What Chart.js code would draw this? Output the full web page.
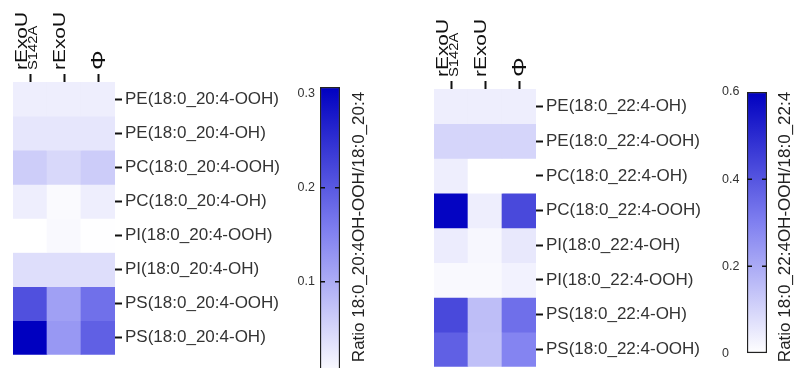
<!DOCTYPE html>
<html>
<head>
<meta charset="utf-8">
<script src="https://cdn.jsdelivr.net/npm/chart.js@4.4.1/dist/chart.umd.min.js"></script>
<style>
  body { margin: 0; width: 799px; height: 368px; overflow: hidden; background: #fff; position: relative; }
  canvas { position: absolute; top: 0; }
</style>
</head>
<body>
<canvas id="heat-204" width="300" height="368" style="left:0px"></canvas>
<canvas id="bar-204" width="100" height="390" style="left:280px"></canvas>
<canvas id="heat-224" width="330" height="380" style="left:400px"></canvas>
<canvas id="bar-224" width="99" height="368" style="left:700px"></canvas>
<script>
/* heatmaps of oxidised / non-oxidised ratios, two panels */

// columns (top labels)
const columns = ['rExoU S142A', 'rExoU', 'Φ'];
const columnMain = ['rExoU', 'rExoU', 'Φ'];
const columnSub = ['S142A', '', ''];

// left panel: 20:4
const rows204 = ['PE(18:0_20:4-OOH)', 'PE(18:0_20:4-OH)', 'PC(18:0_20:4-OOH)', 'PC(18:0_20:4-OH)',
                 'PI(18:0_20:4-OOH)', 'PI(18:0_20:4-OH)', 'PS(18:0_20:4-OOH)', 'PS(18:0_20:4-OH)'];
const s142a204 = [0.02, 0.03, 0.06, 0.02, 0.0, 0.04, 0.211, 0.307];
const exou204 = [0.02, 0.03, 0.047, 0.006, 0.007, 0.04, 0.115, 0.125];
const phi204 = [0.02, 0.03, 0.062, 0.02, 0.001, 0.04, 0.173, 0.192];
const max204 = 0.307;
const ticks204 = [0.1, 0.2, 0.3];
const title204 = 'Ratio 18:0_20:4OH-OOH/18:0_20:4';

// right panel: 22:4
const rows224 = ['PE(18:0_22:4-OH)', 'PE(18:0_22:4-OOH)', 'PC(18:0_22:4-OH)', 'PC(18:0_22:4-OOH)',
                 'PI(18:0_22:4-OH)', 'PI(18:0_22:4-OOH)', 'PS(18:0_22:4-OH)', 'PS(18:0_22:4-OOH)'];
const s142a224 = [0.04, 0.10, 0.04, 0.59, 0.045, 0.015, 0.43, 0.375];
const exou224 = [0.04, 0.10, 0.0, 0.04, 0.02, 0.015, 0.154, 0.15];
const phi224 = [0.04, 0.10, 0.0, 0.43, 0.055, 0.03, 0.34, 0.29];
const max224 = 0.6;
const ticks224 = [0, 0.2, 0.4, 0.6];
const title224 = 'Ratio 18:0_22:4OH-OOH/18:0_22:4';

const FONT = 'Liberation Sans, Arial, sans-serif';

// white -> blue -> dark blue
function shade(v, vmax) {
    const t = Math.max(0, Math.min(1, v / vmax));
    let r, b;
    if (t < 0.5) { const k = t / 0.5; r = 255 - 127 * k; b = 255 - 15 * k; }
    else { const k = (t - 0.5) / 0.5; r = 128 - 128 * k; b = 240 - 48 * k; }
    return 'rgb(' + Math.round(r) + ',' + Math.round(r) + ',' + Math.round(b) + ')';
}

// rotated column labels on top
const topLabels = {
    id: 'topLabels',
    afterDraw(chart) {
        const ctx = chart.ctx, xs = chart.scales.x;
        const base = chart.chartArea.top - 12;
        columnMain.forEach((txt, i) => {
            const x = xs.getPixelForValue(i);
            const sub = columnSub[i];
            const phi = txt === 'Φ';
            ctx.save();
            ctx.fillStyle = '#111';
            ctx.textAlign = 'left';
            ctx.textBaseline = 'alphabetic';
            let b = phi ? x + 7 : (sub ? x - 3 : x + 1);
            ctx.translate(b, base);
            ctx.rotate(-Math.PI / 2);
            ctx.scale(1.23, 1);
            ctx.font = (phi ? 20 : 17) + 'px ' + FONT;
            ctx.fillText(txt, 0, 0);
            if (sub) {
                ctx.font = '12px ' + FONT;
                ctx.fillText(sub, 0, 10);
            }
            ctx.restore();
        });
    }
};

function heatmap(id, rows, series, vmax, box) {
    const datasets = rows.map((r, ri) => ({
        label: r,
        data: columns.map(() => [ri, ri + 1]),
        backgroundColor: series.map(s => shade(s[ri], vmax)),
        borderWidth: 0,
        grouped: false,
        barPercentage: 1,
        categoryPercentage: 1
    }));
    return new Chart(document.getElementById(id), {
        type: 'bar',
        data: { labels: columns, datasets: datasets },
        options: {
            responsive: false,
            animation: false,
            layout: { padding: { left: box.left, bottom: box.bottom, top: 0, right: 0 } },
            plugins: { legend: { display: false }, tooltip: { enabled: false } },
            scales: {
                x: {
                    position: 'top',
                    offset: true,
                    grid: { offset: false, drawOnChartArea: false, tickLength: 8, tickWidth: 2, tickColor: '#111' },
                    border: { display: false },
                    ticks: { display: false },
                    afterFit: s => { s.height = box.top; }
                },
                y: {
                    position: 'right',
                    min: 0,
                    max: 8,
                    reverse: true,
                    grid: { drawOnChartArea: false, tickLength: 7, tickWidth: 2, tickColor: '#111' },
                    border: { display: false },
                    afterBuildTicks: s => { s.ticks = rows.map((_, i) => ({ value: i + 0.5 })); },
                    ticks: {
                        padding: 3,
                        color: '#333',
                        font: { family: FONT, size: 17 },
                        callback: v => rows[Math.floor(v)]
                    },
                    afterFit: s => { s.width = box.yWidth; }
                }
            }
        },
        plugins: [topLabels]
    });
}

function colorbar(id, vmax, ticks, title, box) {
    const barEdges = {
        id: 'barEdges',
        afterDraw(chart) {
            const ctx = chart.ctx, ys = chart.scales.y, a = chart.chartArea;
            ctx.save();
            ctx.strokeStyle = '#111';
            ctx.lineWidth = 1.5;
            // inner dashes only on the middle ticks
            ticks.slice(0, -1).forEach(t => {
                if (t <= 0) return;
                const y = ys.getPixelForValue(t);
                ctx.beginPath();
                ctx.moveTo(a.left, y); ctx.lineTo(a.left + 5, y);
                ctx.moveTo(a.right - 5, y); ctx.lineTo(a.right, y);
                ctx.stroke();
            });
            ctx.fillStyle = '#222';
            ctx.font = '17px ' + FONT;
            ctx.textAlign = 'center';
            ctx.textBaseline = 'middle';
            ctx.translate(box.titleX, 227);
            ctx.rotate(-Math.PI / 2);
            ctx.fillText(title, 0, 0);
            ctx.restore();
        }
    };
    return new Chart(document.getElementById(id), {
        type: 'bar',
        data: {
            labels: [''],
            datasets: [{
                data: [[0, vmax]],
                backgroundColor: c => {
                    const ch = c.chart;
                    if (!ch.chartArea) return '#fff';
                    const ys = ch.scales.y;
                    const g = ch.ctx.createLinearGradient(0, ys.getPixelForValue(0), 0, ys.getPixelForValue(vmax));
                    g.addColorStop(0, shade(0, 1));
                    g.addColorStop(0.5, shade(0.5, 1));
                    g.addColorStop(1, shade(1, 1));
                    return g;
                },
                borderColor: '#222',
                borderWidth: 1.5,
                borderSkipped: false,
                barPercentage: 1,
                categoryPercentage: 1
            }]
        },
        options: {
            responsive: false,
            animation: false,
            layout: { padding: { left: box.left, top: box.top, bottom: box.bottom, right: box.right } },
            plugins: { legend: { display: false }, tooltip: { enabled: false } },
            scales: {
                x: { display: false },
                y: {
                    position: 'left',
                    min: 0,
                    max: vmax,
                    grid: { drawOnChartArea: false, drawTicks: false },
                    border: { display: false },
                    afterBuildTicks: s => { s.ticks = ticks.map(v => ({ value: v })); },
                    ticks: {
                        padding: box.pad,
                        crossAlign: box.align,
                        color: '#333',
                        font: { family: FONT, size: 12.5 },
                        callback: v => String(v)
                    },
                    afterFit: s => { s.width = box.yWidth; }
                }
            }
        },
        plugins: [barEdges]
    });
}

heatmap('heat-204', rows204, [s142a204, exou204, phi204], max204,
        { left: 13, top: 82, yWidth: 185, bottom: 0 });
colorbar('bar-204', max204, ticks204, title204,
         { left: 0, top: 87, bottom: 14, right: 40, yWidth: 40, pad: 5, align: 'near', titleX: 79 });

heatmap('heat-224', rows224, [s142a224, exou224, phi224], max224,
        { left: 34, top: 89, yWidth: 194, bottom: 7 });
colorbar('bar-224', max224, ticks224, title224,
         { left: 22, top: 92, bottom: 5, right: 32, yWidth: 25, pad: 7, align: 'far', titleX: 85 });
</script>
</body>
</html>
